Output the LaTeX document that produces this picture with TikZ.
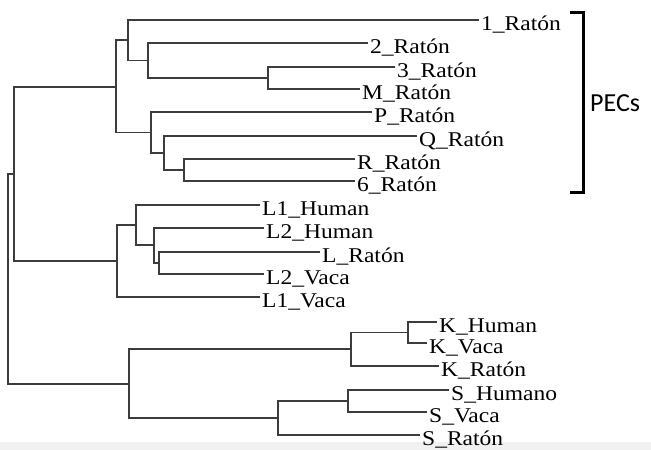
\documentclass[tikz,border=0pt]{standalone}
\usepackage{graphicx}
\usepackage{fontspec}
\setmainfont{Liberation Serif}
\newfontfamily\pecfont{Carlito}
\newcommand\lab[1]{\scalebox{1.12}[1]{#1}}
\definecolor{treecol}{RGB}{60,60,60}
\definecolor{bandcol}{RGB}{241,241,241}
\begin{document}
\begin{tikzpicture}[x=1pt,y=-1pt,
  branch/.style={draw=treecol,line width=1.2pt,line join=miter},
  leaf/.style={anchor=base west,inner sep=0pt,xshift=2pt,yshift=-10.5pt,font=\fontsize{21}{23}\selectfont},
  bracketline/.style={draw=black,line width=3pt,line join=miter}]
\useasboundingbox (0,0) rectangle (651,450);
\fill[bandcol] (0,442) rectangle (651,450);
% leaf tips
\coordinate (t1) at (479,20);
\coordinate (t2) at (368,43);
\coordinate (t3) at (395,67);
\coordinate (tM) at (360,89);
\coordinate (tP) at (372,112);
\coordinate (tQ) at (417,136);
\coordinate (tR) at (355,159);
\coordinate (t6) at (355,181);
\coordinate (tL1H) at (260,205);
\coordinate (tL2H) at (264,228);
\coordinate (tLR) at (320,252);
\coordinate (tL2V) at (264,274);
\coordinate (tL1V) at (260,297);
\coordinate (tKH) at (437,322);
\coordinate (tKV) at (427,343);
\coordinate (tKR) at (439,366);
\coordinate (tSH) at (449,390);
\coordinate (tSV) at (427,412);
\coordinate (tSR) at (420,435);
% labels
\node[leaf] (l1) at (t1) {\lab{1\_Ratón}};
\node[leaf] (l2) at (t2) {\lab{2\_Ratón}};
\node[leaf] (l3) at (t3) {\lab{3\_Ratón}};
\node[leaf] (lM) at (tM) {\lab{M\_Ratón}};
\node[leaf] (lP) at (tP) {\lab{P\_Ratón}};
\node[leaf] (lQ) at (tQ) {\lab{Q\_Ratón}};
\node[leaf] (lR) at (tR) {\lab{R\_Ratón}};
\node[leaf] (l6) at (t6) {\lab{6\_Ratón}};
\node[leaf] (lL1H) at (tL1H) {\lab{L1\_Human}};
\node[leaf] (lL2H) at (tL2H) {\lab{L2\_Human}};
\node[leaf] (lLR) at (tLR) {\lab{L\_Ratón}};
\node[leaf] (lL2V) at (tL2V) {\lab{L2\_Vaca}};
\node[leaf] (lL1V) at (tL1V) {\lab{L1\_Vaca}};
\node[leaf] (lKH) at (tKH) {\lab{K\_Human}};
\node[leaf] (lKV) at (tKV) {\lab{K\_Vaca}};
\node[leaf] (lKR) at (tKR) {\lab{K\_Ratón}};
\node[leaf] (lSH) at (tSH) {\lab{S\_Humano}};
\node[leaf] (lSV) at (tSV) {\lab{S\_Vaca}};
\node[leaf] (lSR) at (tSR) {\lab{S\_Ratón}};
% internal nodes
\coordinate (nC) at (268,78);
\coordinate (nB) at (148,60.5);
\coordinate (nA) at (128,40);
\coordinate (nG) at (184,170);
\coordinate (nF) at (164,153);
\coordinate (nE) at (151,132.5);
\coordinate (nD) at (116,87);
\coordinate (nK) at (159,263);
\coordinate (nJ) at (154,245);
\coordinate (nI) at (136,225);
\coordinate (nL) at (117,261);
\coordinate (nH) at (14,174);
\coordinate (nO) at (408,332.5);
\coordinate (nP) at (351,349);
\coordinate (nQ) at (348,401);
\coordinate (nN) at (278,418);
\coordinate (nM) at (129,384);
\coordinate (nR) at (8,279);
% branches
\draw[branch] (t3) -| (nC) |- (tM);
\draw[branch] (t2) -| (nB) |- (nC);
\draw[branch] (t1) -| (nA) |- (nB);
\draw[branch] (tR) -| (nG) |- (t6);
\draw[branch] (tQ) -| (nF) |- (nG);
\draw[branch] (tP) -| (nE) |- (nF);
\draw[branch] (nA) -| (nD) |- (nE);
\draw[branch] (tLR) -| (nK) |- (tL2V);
\draw[branch] (tL2H) -| (nJ) |- (nK);
\draw[branch] (tL1H) -| (nI) |- (nJ);
\draw[branch] (nI) -| (nL) |- (tL1V);
\draw[branch] (nD) -| (nH) |- (nL);
\draw[branch] (tKH) -| (nO) |- (tKV);
\draw[branch] (nO) -| (nP) |- (tKR);
\draw[branch] (tSH) -| (nQ) |- (tSV);
\draw[branch] (nQ) -| (nN) |- (tSR);
\draw[branch] (nP) -| (nM) |- (nN);
\draw[branch] (nH) -| (nR) |- (nM);
% bracket
\coordinate (bt) at (570,12);
\coordinate (bb) at (570,192);
\draw[bracketline] (bt) -- (583,12) -- (583,192) -- (bb);
\node[anchor=west,inner sep=0pt,font=\pecfont\fontsize{26}{28}\selectfont] (pecs) at (590,103) {PECs};
\end{tikzpicture}
\end{document}
